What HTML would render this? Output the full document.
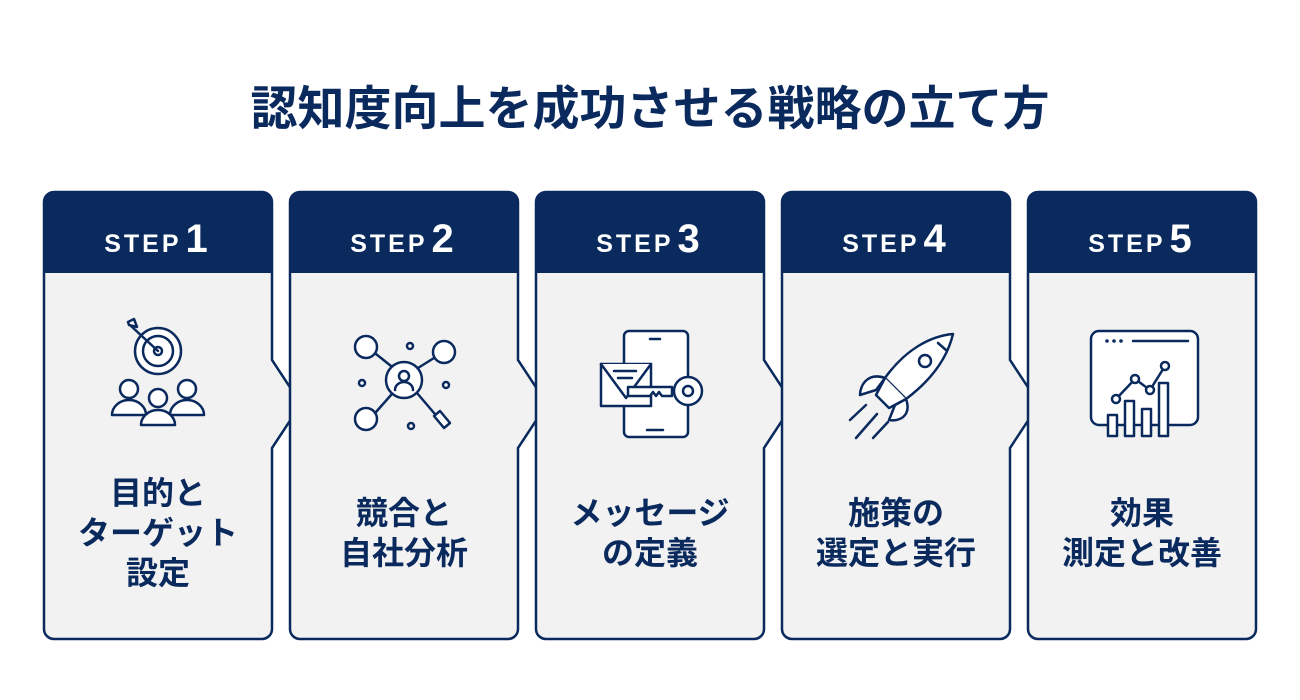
<!DOCTYPE html>
<html><head><meta charset="utf-8"><style>
html,body{margin:0;padding:0;background:#fff;}
svg{display:block;}
text{font-family:"Liberation Sans","Noto Sans CJK JP",sans-serif;font-weight:bold;}
</style></head><body>
<svg width="1300" height="700" viewBox="0 0 1300 700" xmlns="http://www.w3.org/2000/svg">
<defs>
<g id="cardA">
  <path d="M10,0 H218 a10,10 0 0 1 10,10 V168 L257,212 L228,256 V437 a10,10 0 0 1 -10,10 H10 a10,10 0 0 1 -10,-10 V10 a10,10 0 0 1 10,-10 Z" fill="#f2f2f2" stroke="#0a2a5e" stroke-width="2.5"/>
  <path d="M10,0 H218 a10,10 0 0 1 10,10 V81 H0 V10 a10,10 0 0 1 10,-10 Z" fill="#0a2a5e"/>
</g>
<g id="cardB">
  <path d="M10,0 H218 a10,10 0 0 1 10,10 V437 a10,10 0 0 1 -10,10 H10 a10,10 0 0 1 -10,-10 V10 a10,10 0 0 1 10,-10 Z" fill="#f2f2f2" stroke="#0a2a5e" stroke-width="2.5"/>
  <path d="M10,0 H218 a10,10 0 0 1 10,10 V81 H0 V10 a10,10 0 0 1 10,-10 Z" fill="#0a2a5e"/>
</g>
</defs>
<text x="650" y="125" font-size="47" fill="#0a2a5e" text-anchor="middle">認知度向上を成功させる戦略の立て方</text>

<use href="#cardA" x="44" y="192"/>
<use href="#cardA" x="290" y="192"/>
<use href="#cardA" x="536" y="192"/>
<use href="#cardA" x="782" y="192"/>
<use href="#cardB" x="1028" y="192"/>

<g fill="#fff" text-anchor="middle">
<text x="156" y="252"><tspan font-size="25" letter-spacing="3">STEP</tspan><tspan font-size="40" dx="4">1</tspan></text>
<text x="402" y="252"><tspan font-size="25" letter-spacing="3">STEP</tspan><tspan font-size="40" dx="4">2</tspan></text>
<text x="648" y="252"><tspan font-size="25" letter-spacing="3">STEP</tspan><tspan font-size="40" dx="4">3</tspan></text>
<text x="894" y="252"><tspan font-size="25" letter-spacing="3">STEP</tspan><tspan font-size="40" dx="4">4</tspan></text>
<text x="1140" y="252"><tspan font-size="25" letter-spacing="3">STEP</tspan><tspan font-size="40" dx="4">5</tspan></text>
</g>

<g fill="#0a2a5e" font-size="32" text-anchor="middle">
<text x="158" y="504">目的と</text><text x="158" y="544">ターゲット</text><text x="158" y="584">設定</text>
<text x="404" y="524">競合と</text><text x="404" y="564">自社分析</text>
<text x="650" y="524">メッセージ</text><text x="650" y="564">の定義</text>
<text x="896" y="524">施策の</text><text x="896" y="564">選定と実行</text>
<text x="1142" y="524">効果</text><text x="1142" y="564">測定と改善</text>
</g>

<g fill="#fff" stroke="#0a2a5e" stroke-width="2.5" stroke-linecap="round" stroke-linejoin="round">
<circle cx="158" cy="351" r="23"/><circle cx="158" cy="351" r="15"/><circle cx="158" cy="351" r="4"/>
<line x1="158" y1="351" x2="131" y2="326"/><path d="M128,322 l6,-3 l3,8 l-8,-2 z"/>
<circle cx="129" cy="389" r="9"/><path d="M112,415 a17,15 0 0 1 34,0 z"/>
<circle cx="187" cy="389" r="9"/><path d="M170,415 a17,15 0 0 1 34,0 z"/>
<circle cx="158" cy="398" r="9"/><path d="M141,425 a17,15 0 0 1 34,0 z"/>
<circle cx="404" cy="380" r="18"/><circle cx="404" cy="376" r="5"/><path d="M395,390 a9,8 0 0 1 18,0"/>
<line x1="417" y1="393" x2="440" y2="420"/><path d="M434,416 l10,12 l6,-5 l-10,-12 z"/>
<circle cx="366" cy="347" r="11"/><circle cx="444" cy="352" r="11"/><circle cx="366" cy="419" r="11"/>
<circle cx="410" cy="346" r="3"/><circle cx="362" cy="383" r="3"/><circle cx="446" cy="385" r="3"/><circle cx="411" cy="426" r="3"/>
<line x1="376" y1="354" x2="391" y2="366"/><line x1="434" y1="358" x2="418" y2="368"/><line x1="376" y1="412" x2="391" y2="395"/>
<rect x="624" y="331" width="64" height="106" rx="5"/><line x1="650" y1="339" x2="660" y2="339"/><line x1="647" y1="430" x2="663" y2="430"/>
<rect x="601" y="364" width="50" height="42"/><path d="M601,364 L626,398 L651,364"/>
<line x1="614" y1="371" x2="636" y2="371"/><line x1="618" y1="378" x2="632" y2="378"/>
<path d="M628,387 h44 v9 h-10 l-3,-4 l-3,4 l-3,-4 l-3,4 h-22 z"/><circle cx="688" cy="391" r="14"/><circle cx="688" cy="391" r="5"/>
<path d="M953,334 C930,336 905,350 885,378 L906,399 C934,378 948,355 953,334 Z"/>
<path d="M885,378 C868,372 860,385 860,395 L876,390 Z"/><path d="M906,399 C912,416 899,422 889,420 L895,405 Z"/>
<path d="M885,378 L876,395 L889,408 L906,399"/><circle cx="925" cy="361" r="6"/>
<line x1="938" y1="343" x2="946" y2="350"/>
<line x1="866" y1="405" x2="850" y2="420"/><line x1="877" y1="414" x2="856" y2="438"/><line x1="888" y1="422" x2="873" y2="438"/>
<rect x="1091" y="331" width="107" height="94" rx="8"/>
<line x1="1133" y1="341" x2="1188" y2="341"/>
<rect x="1108" y="415" width="9" height="21"/><rect x="1125" y="401" width="9" height="35"/><rect x="1142" y="409" width="9" height="27"/><rect x="1159" y="383" width="9" height="53"/>
<polyline points="1116,399 1135,379 1150,390 1165,366" fill="none"/>
<circle cx="1116" cy="399" r="4"/><circle cx="1135" cy="379" r="4"/><circle cx="1150" cy="390" r="4"/><circle cx="1165" cy="366" r="4"/>
</g>
<g fill="#0a2a5e"><circle cx="1107" cy="341" r="1.8"/><circle cx="1114" cy="341" r="1.8"/><circle cx="1121" cy="341" r="1.8"/></g>
</svg>
</body></html>
